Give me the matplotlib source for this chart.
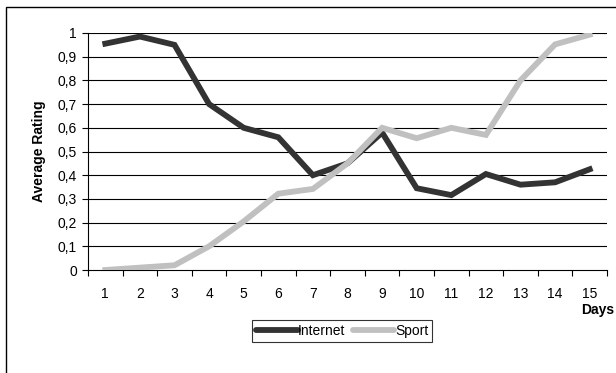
import matplotlib
matplotlib.use("Agg")
import matplotlib.pyplot as plt
from matplotlib.patches import Rectangle

plt.rcParams['font.family'] = ['Liberation Sans', 'DejaVu Sans']

days = list(range(1, 16))
internet = [0.955, 0.985, 0.95, 0.70, 0.60, 0.56, 0.40, 0.45, 0.58, 0.345, 0.316, 0.405, 0.36, 0.37, 0.425]
sport = [0.0, 0.01, 0.02, 0.10, 0.205, 0.322, 0.342, 0.45, 0.60, 0.556, 0.60, 0.57, 0.80, 0.952, 0.993]
y_ticks = [i / 10 for i in range(11)]
y_tick_labels = ["0" if v == 0 else ("1" if v == 1 else f"{v:.1f}".replace(".", ",")) for v in y_ticks]

W, H = 616, 373
fig = plt.figure(figsize=(W / 100, H / 100), dpi=100)

# outer chart frame
fig.patches.append(Rectangle((6 / W, -0.05), 1.2, (H - 7) / H + 0.05, transform=fig.transFigure,
                             fill=False, edgecolor='black', linewidth=1.0))

ax = fig.add_axes([88 / W, 1 - 270 / H, (607 - 88) / W, (270 - 33) / H])
ax.plot(days, internet, color='#333333', linewidth=4.2, solid_joinstyle='miter', label='Internet', zorder=3)
ax.plot(days, sport, color='#c0c0c0', linewidth=4.2, solid_joinstyle='miter', label='Sport', zorder=3)

ax.set_xlim(0.5, 15.5)
ax.set_ylim(0, 1)
ax.set_yticks(y_ticks)
ax.set_yticklabels(y_tick_labels)
ax.set_xticks(days)
ax.set_xticks([d + 0.5 for d in [0] + days], minor=True)
ax.tick_params(axis='x', which='major', length=0, pad=12, labelsize=10)
ax.tick_params(axis='x', which='minor', length=4, direction='out', width=0.8)
ax.tick_params(axis='y', length=4, direction='out', width=0.8, labelsize=10, pad=4)

for v in y_ticks[1:]:
    ax.axhline(v, color='black', linewidth=0.8, zorder=1)

for s in ['top', 'right']:
    ax.spines[s].set_visible(False)
for s in ['left', 'bottom']:
    ax.spines[s].set_linewidth(0.8)

ax.set_ylabel('Average Rating', fontsize=10, fontweight='bold', labelpad=8)
fig.text(581 / W, 1 - 310 / H, 'Days', fontsize=10, fontweight='bold', ha='left', va='center')

leg = fig.legend(loc='center', bbox_to_anchor=(342 / W, 1 - 331 / H), ncol=2, frameon=True,
                 fancybox=False, edgecolor='black', fontsize=10, handlelength=3.0,
                 handletextpad=0.05, columnspacing=0.5, borderpad=0.3, borderaxespad=0)
leg.get_frame().set_linewidth(0.8)
for h in leg.get_lines():
    h.set_solid_capstyle('round')

fig.savefig('out.png', dpi=100)
